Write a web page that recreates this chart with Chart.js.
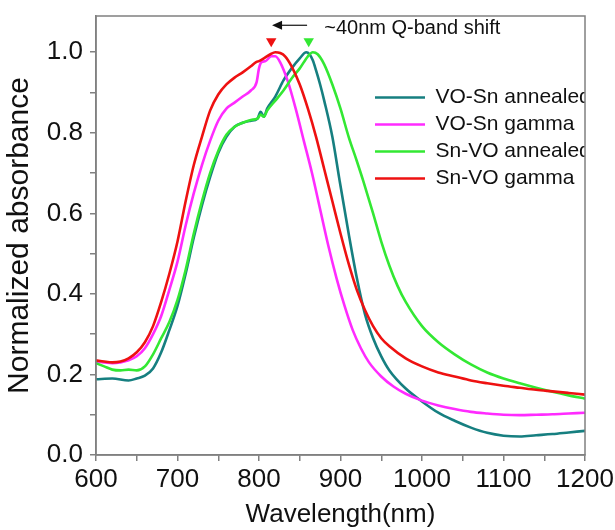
<!DOCTYPE html>
<html><head><meta charset="utf-8">
<script src="https://cdn.jsdelivr.net/npm/chart.js@4.4.1/dist/chart.umd.min.js"></script>
<style>html,body{margin:0;padding:0;background:#fff;}</style>
</head><body>
<canvas id="c" width="615" height="530"></canvas>
<script>
const seriesNames = ['VO-Sn annealed', 'VO-Sn gamma', 'Sn-VO annealed', 'Sn-VO gamma'];
const seriesColors = ['#167f80', '#ff2bff', '#33e833', '#ee1111'];

const tealX = [600,620,640,650,660,670,680,690,700,710,720,730,740,750,760,770,780,790,798,802,806,810,820,830,840,850,858,862,866,870,875,880,890,899,910,920,930,940,950,960,980,1000,1020,1040,1060,1080,1100,1120,1140,1160,1180,1200];
const tealY = [0.188,0.19,0.185,0.19,0.197,0.215,0.255,0.31,0.37,0.45,0.54,0.62,0.69,0.75,0.79,0.815,0.825,0.83,0.835,0.852,0.84,0.86,0.89,0.93,0.96,0.985,1.0,0.995,0.98,0.955,0.92,0.88,0.79,0.68,0.55,0.44,0.35,0.29,0.245,0.21,0.165,0.133,0.105,0.085,0.068,0.055,0.048,0.046,0.049,0.052,0.056,0.06];

const magX = [600,610,620,630,640,650,660,670,680,690,700,710,720,730,740,750,760,770,780,790,797,800,803,808,815,820,826,835,845,855,865,875,885,895,905,915,925,935,950,965,980,1000,1020,1040,1060,1080,1100,1120,1140,1160,1180,1200];
const magY = [0.232,0.23,0.228,0.23,0.235,0.245,0.265,0.30,0.345,0.41,0.48,0.57,0.65,0.72,0.78,0.83,0.86,0.875,0.89,0.905,0.925,0.96,0.975,0.978,0.99,0.99,0.975,0.93,0.86,0.78,0.70,0.61,0.52,0.44,0.37,0.31,0.265,0.23,0.195,0.17,0.152,0.135,0.123,0.114,0.107,0.103,0.10,0.099,0.10,0.101,0.103,0.105];

const greenX = [600,610,620,630,640,650,660,670,680,690,700,710,720,730,740,750,760,770,780,790,798,802,806,810,820,830,840,850,860,866,872,880,890,900,910,920,928,940,950,960,970,980,1000,1020,1040,1060,1080,1100,1120,1140,1160,1180,1200];
const greenY = [0.228,0.22,0.212,0.21,0.212,0.21,0.22,0.25,0.29,0.33,0.385,0.46,0.55,0.63,0.70,0.755,0.795,0.815,0.825,0.832,0.835,0.845,0.84,0.855,0.88,0.905,0.935,0.96,0.99,1.0,0.995,0.97,0.92,0.86,0.79,0.73,0.68,0.60,0.53,0.47,0.42,0.38,0.32,0.28,0.25,0.225,0.205,0.19,0.178,0.167,0.157,0.148,0.14];

const redX = [600,610,620,630,640,650,660,670,680,690,700,710,720,730,740,750,760,770,780,790,796,800,806,814,820,826,832,840,850,860,870,880,890,900,910,920,930,940,950,960,980,1000,1020,1040,1060,1080,1100,1120,1140,1160,1180,1200];
const redY = [0.235,0.232,0.23,0.232,0.24,0.255,0.28,0.32,0.38,0.45,0.53,0.63,0.72,0.79,0.855,0.895,0.92,0.937,0.95,0.965,0.975,0.978,0.985,0.995,1.0,0.998,0.99,0.965,0.92,0.86,0.79,0.71,0.63,0.55,0.475,0.41,0.36,0.32,0.29,0.27,0.24,0.22,0.205,0.195,0.185,0.178,0.172,0.167,0.162,0.158,0.154,0.15];

const markerX = [815, 861];
const markerY = [1.027, 1.027];
const markerColors = ['#ee1111', '#33e833'];

const annotationText = '~40nm Q-band shift';
const annotationX = 880;
const annotationY = 1.06;
const arrowFromX = 859;
const arrowToX = 816;
const arrowY = 1.067;

const xTitle = 'Wavelength(nm)';
const yTitle = 'Normalized absorbance';

const FONT = '"Liberation Sans", Arial, sans-serif';

function pts(xs, ys) { return xs.map((v, i) => ({x: v, y: ys[i]})); }

const allX = [tealX, magX, greenX, redX];
const allY = [tealY, magY, greenY, redY];
const datasets = seriesNames.map((name, i) => ({
  label: name,
  data: pts(allX[i], allY[i]),
  borderColor: seriesColors[i],
  backgroundColor: seriesColors[i],
  borderWidth: 2.6,
  pointRadius: 0,
  cubicInterpolationMode: 'monotone',
  fill: false,
  order: 4 - i
}));
datasets.push({
  label: 'markers',
  data: pts(markerX, markerY),
  showLine: false,
  pointStyle: 'triangle',
  rotation: 180,
  pointRadius: 6,
  pointBackgroundColor: markerColors,
  pointBorderColor: markerColors,
  pointBorderWidth: 0,
  order: 0
});

const decor = {
  id: 'decor',
  afterLayout(chart) {
    const a = chart.chartArea;
    if (chart.legend) {
      chart.legend.left = a.right - 216;
      chart.legend.top = a.top + 65;
    }
  },
  afterDraw(chart) {
    const {ctx, chartArea: a, scales: {x, y}} = chart;
    ctx.save();
    ctx.strokeStyle = '#808080';
    ctx.lineWidth = 1.5;
    ctx.strokeRect(a.left, a.top, a.right - a.left, a.bottom - a.top);
    ctx.fillStyle = '#111';
    ctx.font = '20px ' + FONT;
    ctx.textBaseline = 'middle';
    ctx.textAlign = 'left';
    ctx.fillText(annotationText, x.getPixelForValue(annotationX), y.getPixelForValue(annotationY));
    const x1 = x.getPixelForValue(arrowFromX), x2 = x.getPixelForValue(arrowToX), yy = y.getPixelForValue(arrowY);
    ctx.strokeStyle = '#111';
    ctx.lineWidth = 1.2;
    ctx.beginPath(); ctx.moveTo(x1, yy); ctx.lineTo(x2 + 6, yy); ctx.stroke();
    ctx.beginPath(); ctx.moveTo(x2, yy); ctx.lineTo(x2 + 10, yy - 4.5); ctx.lineTo(x2 + 10, yy + 4.5); ctx.closePath(); ctx.fill();
    ctx.restore();
  }
};

new Chart(document.getElementById('c'), {
  type: 'line',
  data: { datasets },
  options: {
    responsive: false,
    animation: false,
    layout: { padding: { left: 0, right: 30, top: 16, bottom: 0 } },
    plugins: {
      tooltip: { enabled: false },
      legend: {
        position: 'chartArea',
        align: 'start',
        labels: {
          filter: (item) => item.datasetIndex < 4,
          sort: (a, b) => a.datasetIndex - b.datasetIndex,
          usePointStyle: true,
          pointStyle: 'line',
          pointStyleWidth: 50,
          boxHeight: 20,
          padding: 6,
          color: '#111',
          font: { family: FONT, size: 21 }
        }
      }
    },
    scales: {
      x: {
        type: 'linear',
        min: 600, max: 1200,
        afterFit: (s) => { s.height = 75; s.paddingLeft = 0; s.paddingRight = 0; },
        grid: { display: true, drawOnChartArea: false, drawTicks: true, tickLength: 6, color: '#808080', lineWidth: 1.5 },
        border: { display: true, color: '#808080', width: 1.5 },
        ticks: {
          stepSize: 50,
          padding: 3,
          color: '#111',
          font: { family: FONT, size: 26 },
          maxRotation: 0,
          autoSkip: false,
          callback: (v) => (v % 100 === 0 ? String(v) : '')
        },
        title: { display: true, text: xTitle, color: '#111', font: { family: FONT, size: 26 }, padding: { top: 0, bottom: 0 } }
      },
      y: {
        type: 'linear',
        min: 0, max: 1.09,
        afterFit: (s) => { s.width = 96; s.paddingTop = 0; s.paddingBottom = 0; },
        afterBuildTicks: (s) => { s.ticks = s.ticks.filter(t => t.value <= 1.0001); },
        grid: { display: true, drawOnChartArea: false, drawTicks: true, tickLength: 6, color: '#808080', lineWidth: 1.5 },
        border: { display: true, color: '#808080', width: 1.5 },
        ticks: {
          stepSize: 0.1,
          padding: 7,
          color: '#111',
          font: { family: FONT, size: 26 },
          autoSkip: false,
          callback: (v) => { const k = Math.round(v * 10); return (Math.abs(v * 10 - k) < 1e-6 && k % 2 === 0) ? (k / 10).toFixed(1) : ''; }
        },
        title: { display: true, text: yTitle, color: '#111', font: { family: FONT, size: 30 }, padding: { top: 2, bottom: 0 } }
      }
    }
  },
  plugins: [decor]
});
</script>
</body></html>
